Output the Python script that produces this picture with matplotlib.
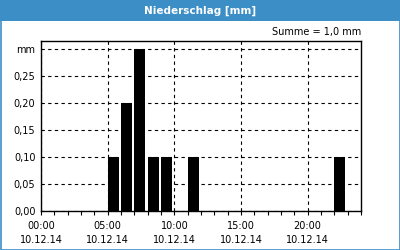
import matplotlib
matplotlib.use('Agg')
from matplotlib import pyplot as plt
from matplotlib.patches import Rectangle

# hourly precipitation on 10.12.14 (hour of day -> mm)
hours = [5, 6, 7, 8, 9, 11, 22]
rain_mm = [0.10, 0.20, 0.30, 0.10, 0.10, 0.10, 0.10]
x_ticks = [0, 5, 10, 15, 20]
x_labels = ['00:00\n10.12.14', '05:00\n10.12.14', '10:00\n10.12.14',
            '15:00\n10.12.14', '20:00\n10.12.14']
y_ticks = [0.00, 0.05, 0.10, 0.15, 0.20, 0.25, 0.30]
y_labels = ['0,00', '0,05', '0,10', '0,15', '0,20', '0,25', 'mm']

BLUE = '#3c8fc6'
W, H = 400, 250

plt.rcParams['font.family'] = ['DejaVu Sans']
fig = plt.figure(figsize=(4, 2.5), dpi=100, facecolor='white')

# frame + title bar (behind the axes)
fig.patches.append(Rectangle((0.5 / W, 0.5 / H), 1 - 1 / W, 1 - 1 / H, transform=fig.transFigure,
                             facecolor='none', edgecolor=BLUE, linewidth=1.2, zorder=-2))
fig.patches.append(Rectangle((0, 1 - 21 / H), 1, 21 / H, transform=fig.transFigure,
                             facecolor=BLUE, edgecolor='none', zorder=-1))
fig.text(0.5, 1 - 10.5 / H, 'Niederschlag [mm]', color='white', fontweight='bold',
         fontsize=7.5, ha='center', va='center')
fig.text(361 / W, 1 - 32 / H, 'Summe = 1,0 mm', fontsize=7, ha='right', va='center')

ax = fig.add_axes([41 / W, 1 - 211 / H, 320 / W, 170 / H])
ax.bar(hours, rain_mm, width=0.82, align='edge', color='black', zorder=3)

ax.set_xlim(0, 24)
ax.set_ylim(0, 0.315)
ax.set_xticks(x_ticks)
ax.set_xticklabels(x_labels, fontsize=7, linespacing=1.55)
ax.set_xticks(range(0, 25), minor=True)
ax.set_yticks(y_ticks)
ax.set_yticklabels(y_labels, fontsize=7)
ax.tick_params(axis='x', which='both', length=3, width=0.8, direction='out', pad=4)
ax.tick_params(axis='y', length=0, pad=4)
ax.grid(True, color='black', linestyle=(0, (3, 3)), linewidth=0.8)
for s in ax.spines.values():
    s.set_linewidth(1)

fig.savefig('out.png', dpi=100)
